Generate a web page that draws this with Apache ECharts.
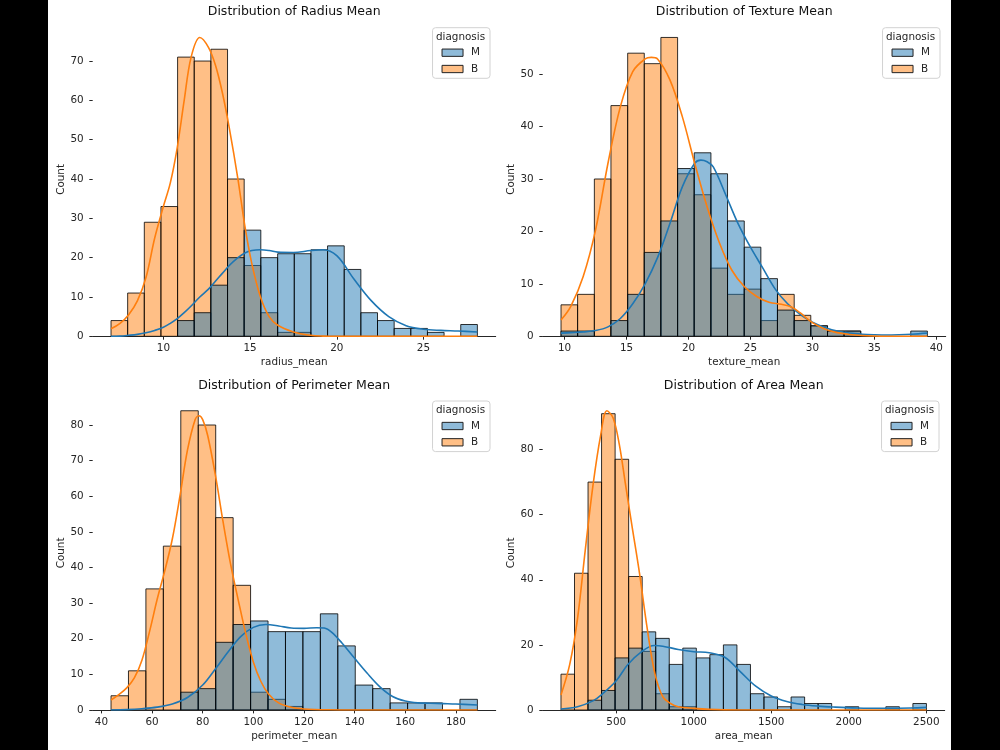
<!DOCTYPE html>
<html>
<head>
<meta charset="utf-8">
<script src="https://cdn.jsdelivr.net/npm/echarts@6/dist/echarts.min.js"></script>
<style>
  html, body { margin: 0; padding: 0; background: #000; }
  #chart {
    width: 1000px; height: 750px;
    background: linear-gradient(to right, #000 48px, #fff 48px, #fff 951px, #000 951px);
  }
</style>
</head>
<body>
<div id="chart"></div>
<script>
// histogram bin edges (shared by both diagnosis groups)
let radiusEdges = [6.98, 7.94, 8.90, 9.86, 10.82, 11.78, 12.74, 13.70, 14.66, 15.62, 16.59, 17.55, 18.51, 19.47, 20.43, 21.39, 22.35, 23.31, 24.27, 25.23, 26.19, 27.15, 28.11];
let radiusM = [0, 0, 0, 0, 4, 6, 13, 20, 27, 20, 21, 21, 22, 23, 17, 6, 4, 2, 2, 1, 0, 3];
let radiusB = [4, 11, 29, 33, 71, 70, 73, 40, 18, 6, 1, 1, 0, 0, 0, 0, 0, 0, 0, 0, 0, 0];

let textureEdges = [9.71, 11.05, 12.40, 13.74, 15.09, 16.43, 17.77, 19.12, 20.46, 21.81, 23.15, 24.50, 25.84, 27.18, 28.53, 29.87, 31.22, 32.56, 33.90, 35.25, 36.59, 37.94, 39.28];
let textureM = [1, 1, 0, 3, 8, 16, 22, 32, 35, 31, 22, 17, 11, 5, 3, 2, 1, 1, 0, 0, 0, 1];
let textureB = [6, 8, 30, 44, 54, 52, 57, 31, 27, 13, 8, 9, 3, 8, 4, 2, 1, 1, 0, 0, 0, 0];

let perimeterEdges = [43.79, 50.68, 57.57, 64.46, 71.35, 78.25, 85.14, 92.03, 98.92, 105.81, 112.70, 119.59, 126.48, 133.37, 140.26, 147.16, 154.05, 160.94, 167.83, 174.72, 181.61, 188.50];
let perimeterM = [0, 0, 0, 0, 5, 6, 19, 24, 25, 22, 22, 22, 27, 18, 7, 6, 2, 2, 2, 0, 3];
let perimeterB = [4, 11, 34, 46, 84, 80, 54, 35, 5, 3, 1, 0, 0, 0, 0, 0, 0, 0, 0, 0, 0];

let areaEdges = [143.5, 230.8, 318.1, 405.4, 492.8, 580.1, 667.4, 754.7, 842.0, 929.3, 1016.6, 1104.0, 1191.3, 1278.6, 1365.9, 1453.2, 1540.5, 1627.9, 1715.2, 1802.5, 1889.8, 1977.1, 2064.4, 2151.7, 2239.1, 2326.4, 2413.7, 2501.0];
let areaM = [0, 0, 3, 6, 16, 19, 24, 22, 14, 19, 16, 17, 20, 14, 5, 4, 1, 4, 2, 2, 0, 1, 0, 0, 1, 0, 2];
let areaB = [11, 42, 70, 91, 77, 41, 18, 5, 1, 1, 0, 0, 0, 0, 0, 0, 0, 0, 0, 0, 0, 0, 0, 0, 0, 0, 0];

// kde curves, [x, count]
let radiusKdeM = [[6.98, 0], [7.5, 0.05], [8, 0.25], [8.5, 0.5], [9, 0.9], [9.5, 1.5], [10, 2.3], [10.4, 3.3], [10.8, 4.5], [11.2, 6], [11.6, 7.7], [12.1, 10], [12.6, 12], [13, 14], [13.4, 16], [13.8, 18], [14.3, 20], [14.7, 21.2], [15.1, 21.8], [15.6, 22], [16.1, 21.8], [16.6, 21.4], [17.5, 21.3], [18.5, 21.8], [19.2, 22], [20, 20.5], [21, 14.5], [22, 9], [23, 5], [24, 2.7], [25, 1.8], [26, 1.5], [27, 1.35], [28.11, 1.1]];
let radiusKdeB = [[6.98, 1.9], [7.5, 3.3], [8, 5.5], [8.5, 9], [9, 15], [9.5, 25], [10, 33], [10.4, 39], [10.8, 48], [11.2, 60], [11.6, 71], [12.1, 76], [12.6, 73.5], [13, 69], [13.4, 62], [13.8, 53], [14.3, 40], [14.7, 28], [15.1, 18.5], [15.6, 10], [16.1, 5], [16.6, 2.8], [17.5, 1.1], [18.5, 0.25], [19.2, 0.05], [20, 0], [28.11, 0]];

let textureKdeM = [[9.71, 0.6], [10.5, 0.7], [11.5, 0.85], [12.5, 1.1], [13.5, 1.8], [14.5, 3.4], [15.5, 6.2], [16.5, 10], [17.5, 15], [18.5, 21.5], [19.5, 28.5], [20.5, 33], [21, 33.6], [21.5, 33.3], [22, 32.3], [23, 27], [24, 21.5], [25, 17], [26, 13], [27, 9], [28, 6.2], [29, 4.2], [30, 2.7], [31, 1.7], [32, 1.0], [33, 0.6], [34, 0.4], [35, 0.3], [36, 0.25], [37, 0.3], [38, 0.4], [39.28, 0.6]];
let textureKdeB = [[9.71, 3.1], [10.5, 5.7], [11.5, 11.4], [12.5, 20.3], [13.5, 33], [14.5, 43.8], [15.5, 50.5], [16.5, 52.9], [17, 53.2], [17.5, 52.9], [18.5, 48.9], [19.5, 41.9], [20.5, 33], [21.5, 24.7], [22.5, 17.8], [23.5, 12.6], [24.5, 9.5], [25.5, 7.6], [26.5, 6.5], [27.5, 6.1], [28.3, 5.6], [29, 4.5], [30, 2.6], [31, 1.4], [32, 0.7], [33, 0.35], [34, 0.15], [35, 0.05], [36, 0], [39.28, 0]];

let perimeterKdeM = [[43.79, 0], [50, 0.1], [56, 0.35], [62, 0.8], [68, 1.7], [74, 3.5], [80, 7], [85, 11.5], [90, 16.3], [95, 20.6], [100, 23.2], [105, 24], [110, 23.6], [115, 23], [120, 22.9], [125, 23.1], [128, 23], [131, 21.8], [135, 18.8], [140, 14.5], [145, 10.3], [150, 6.5], [155, 3.8], [160, 2.5], [165, 2], [170, 1.9], [175, 1.8], [180, 1.7], [188.5, 1.4]];
let perimeterKdeB = [[43.79, 2.8], [47, 4.4], [50, 6.2], [53, 9], [56, 14], [59, 22], [62, 31], [65, 39], [68, 48], [71, 60], [74, 73], [77, 81.5], [78.5, 82.6], [80, 81.5], [82, 77], [85, 66], [88, 53], [91, 41], [94, 31], [97, 21.5], [100, 13.5], [103, 8], [106, 4.5], [110, 2], [115, 0.75], [120, 0.3], [130, 0.05], [140, 0], [188.5, 0]];

let areaKdeM = [[143.5, 0.3], [250, 1], [350, 2.8], [400, 4.5], [500, 9], [575, 14], [660, 17.8], [745, 19.8], [800, 19.6], [900, 18.6], [1000, 17.9], [1100, 17.6], [1200, 16.2], [1300, 11.8], [1400, 7.3], [1500, 4.3], [1600, 2.6], [1700, 1.7], [1800, 1.2], [1900, 0.9], [2050, 0.6], [2250, 0.5], [2400, 0.6], [2501, 0.8]];
let areaKdeB = [[143.5, 4.6], [200, 14], [250, 28], [300, 49], [350, 69], [400, 84.5], [440, 91.9], [480, 89.7], [520, 81.5], [560, 69.2], [600, 57], [650, 42], [700, 25], [750, 11], [800, 4.1], [850, 2], [900, 1], [1000, 0.5], [1100, 0.2], [1300, 0.02], [1500, 0], [2501, 0]];

// tick labels
let radiusXTicks = [10, 15, 20, 25];
let radiusYTicks = [0, 10, 20, 30, 40, 50, 60, 70];
let textureXTicks = [10, 15, 20, 25, 30, 35, 40];
let textureYTicks = [0, 10, 20, 30, 40, 50];
let perimeterXTicks = [40, 60, 80, 100, 120, 140, 160, 180];
let perimeterYTicks = [0, 10, 20, 30, 40, 50, 60, 70, 80];
let areaXTicks = [500, 1000, 1500, 2000, 2500];
let areaYTicks = [0, 20, 40, 60, 80];

let colorM = 'rgba(31,119,180,0.5)';
let colorB = 'rgba(255,127,14,0.5)';
let font = 'DejaVu Sans';
let ink = '#262626';

let panels = [
  { title: 'Distribution of Radius Mean', xName: 'radius_mean', edges: radiusEdges, m: radiusM, b: radiusB, kdeM: radiusKdeM, kdeB: radiusKdeB, xTicks: radiusXTicks, yTicks: radiusYTicks,
    grid: { left: 92.7, top: 22.5, width: 403, height: 313.8 } },
  { title: 'Distribution of Texture Mean', xName: 'texture_mean', edges: textureEdges, m: textureM, b: textureB, kdeM: textureKdeM, kdeB: textureKdeB, xTicks: textureXTicks, yTicks: textureYTicks,
    grid: { left: 542.7, top: 22.5, width: 403, height: 313.8 } },
  { title: 'Distribution of Perimeter Mean', xName: 'perimeter_mean', edges: perimeterEdges, m: perimeterM, b: perimeterB, kdeM: perimeterKdeM, kdeB: perimeterKdeB, xTicks: perimeterXTicks, yTicks: perimeterYTicks,
    grid: { left: 92.7, top: 395.8, width: 403, height: 314.2 } },
  { title: 'Distribution of Area Mean', xName: 'area_mean', edges: areaEdges, m: areaM, b: areaB, kdeM: areaKdeM, kdeB: areaKdeB, xTicks: areaXTicks, yTicks: areaYTicks,
    grid: { left: 542.7, top: 395.8, width: 402, height: 314.2 } }
];

function binData(edges, counts) {
  let out = [];
  counts.forEach(function (c, i) {
    if (c > 0) out.push([edges[i], edges[i + 1], c]);
  });
  return out;
}

function renderBar(params, api) {
  let p0 = api.coord([api.value(0), 0]);
  let p1 = api.coord([api.value(1), api.value(2)]);
  return {
    type: 'rect',
    shape: { x: p0[0], y: p1[1], width: p1[0] - p0[0], height: p0[1] - p1[1] },
    style: { fill: api.visual('color'), stroke: 'rgba(0,0,0,0.8)', lineWidth: 1 }
  };
}

let plain = function (v) { return String(v); };

let grids = [], xAxes = [], yAxes = [], series = [], legends = [], graphics = [];

panels.forEach(function (p, i) {
  let g = p.grid;
  grids.push(g);

  // matplotlib style 5% margins on the x range
  let lo = p.edges[0], hi = p.edges[p.edges.length - 1];
  let pad = (hi - lo) * 0.05;
  let yTop = Math.max.apply(null, p.m.concat(p.b, p.kdeM.map(d => d[1]), p.kdeB.map(d => d[1]))) * 1.05;

  xAxes.push({
    type: 'value', gridIndex: i, min: lo - pad, max: hi + pad,
    name: p.xName, nameLocation: 'middle', nameGap: 21,
    nameTextStyle: { fontFamily: font, fontSize: 10.4, color: ink },
    axisLine: { show: true, lineStyle: { color: ink, width: 1 } },
    axisTick: { show: true, length: 3.4, lineStyle: { color: ink }, customValues: p.xTicks },
    axisLabel: { margin: 7, fontFamily: font, fontSize: 10.4, color: ink, customValues: p.xTicks, formatter: plain },
    splitLine: { show: false }
  });
  yAxes.push({
    type: 'value', gridIndex: i, min: 0, max: yTop,
    name: 'Count', nameLocation: 'middle', nameGap: 26, nameRotate: 90,
    nameTextStyle: { fontFamily: font, fontSize: 10.4, color: ink },
    axisLine: { show: false },
    axisTick: { show: true, length: 3.4, lineStyle: { color: ink }, customValues: p.yTicks },
    axisLabel: { margin: 9, fontFamily: font, fontSize: 10.4, color: ink, customValues: p.yTicks, formatter: plain },
    splitLine: { show: false }
  });

  series.push({
    name: 'B', type: 'custom', xAxisIndex: i, yAxisIndex: i, renderItem: renderBar, clip: true,
    itemStyle: { color: colorB }, encode: { x: [0, 1], y: 2 }, data: binData(p.edges, p.b), z: 2
  });
  series.push({
    name: 'M', type: 'custom', xAxisIndex: i, yAxisIndex: i, renderItem: renderBar, clip: true,
    itemStyle: { color: colorM }, encode: { x: [0, 1], y: 2 }, data: binData(p.edges, p.m), z: 3
  });
  series.push({
    name: 'M kde', type: 'line', xAxisIndex: i, yAxisIndex: i, data: p.kdeM, smooth: 0.35,
    showSymbol: false, lineStyle: { color: '#1f77b4', width: 1.6 }, itemStyle: { color: '#1f77b4' }, z: 4
  });
  series.push({
    name: 'B kde', type: 'line', xAxisIndex: i, yAxisIndex: i, data: p.kdeB, smooth: 0.35,
    showSymbol: false, lineStyle: { color: '#ff7f0e', width: 1.6 }, itemStyle: { color: '#ff7f0e' }, z: 4
  });

  let boxRight = g.left + g.width - 5.7;
  legends.push({
    orient: 'vertical', right: 1000 - boxRight, top: g.top + 5.2,
    data: [
      { name: 'M', itemStyle: { color: colorM, borderColor: '#222', borderWidth: 1 } },
      { name: 'B', itemStyle: { color: colorB, borderColor: '#222', borderWidth: 1 } }
    ],
    icon: 'rect', itemWidth: 21, itemHeight: 7.3, itemGap: 4.3,
    padding: [19, 10, 3.3, 9],
    backgroundColor: 'rgba(255,255,255,0.8)', borderColor: '#d2d2d2', borderWidth: 1, borderRadius: 3,
    selectedMode: false,
    textStyle: { fontFamily: font, fontSize: 10.4, color: ink, lineHeight: 12, padding: [0, 0, 0, 3] }
  });

  graphics.push({
    type: 'text', x: g.left + g.width / 2, y: g.top - 10.5, z: 100,
    style: { text: p.title, fontFamily: font, fontSize: 12.5, fill: '#111', align: 'center', verticalAlign: 'middle' }
  });
  graphics.push({
    type: 'text', x: boxRight - 29.5, y: g.top + 14.8, z: 100,
    style: { text: 'diagnosis', fontFamily: font, fontSize: 10.4, fill: ink, align: 'center', verticalAlign: 'middle' }
  });
});

let myChart = echarts.init(document.getElementById('chart'), null, { renderer: 'canvas' });
myChart.setOption({
  animation: false,
  grid: grids,
  xAxis: xAxes,
  yAxis: yAxes,
  legend: legends,
  graphic: graphics,
  series: series
});
</script>
</body>
</html>
